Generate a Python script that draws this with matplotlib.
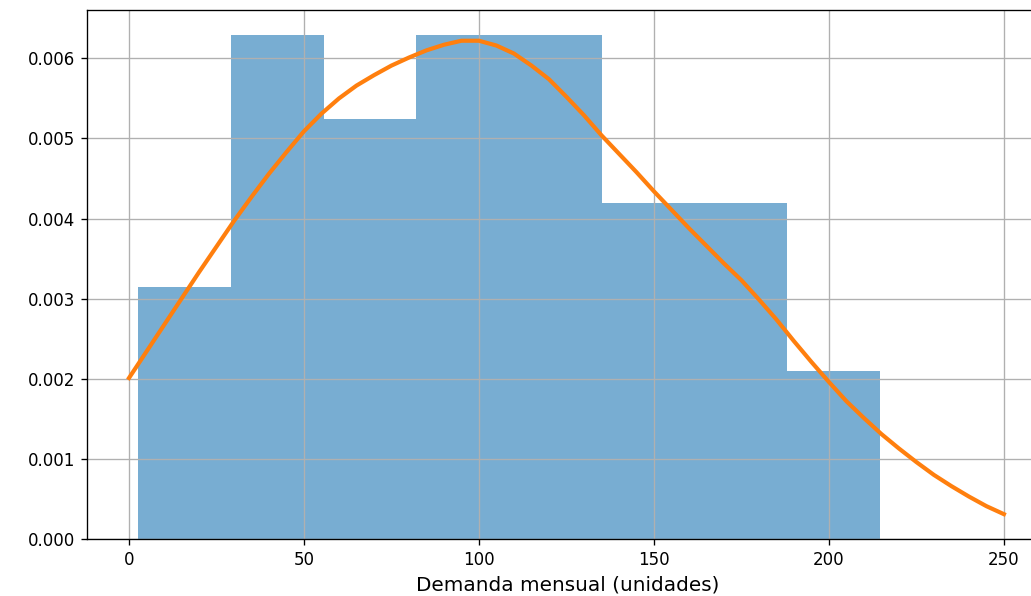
import numpy as np
import matplotlib
matplotlib.use('Agg')
import matplotlib.pyplot as plt

# histogram bins (edges) and counts
bin_edges = [2.6, 29.1, 55.6, 82.1, 108.6, 135.1, 161.6, 188.1, 214.6]
counts = [3, 6, 5, 6, 6, 4, 4, 2]

# fitted density curve, every 5 units
curve_x = list(range(0, 255, 5))
curve_y = [0.00201, 0.00234, 0.00267, 0.00300, 0.00333, 0.00365, 0.00397,
           0.00427, 0.00456, 0.00483, 0.00509, 0.00531, 0.00550, 0.00566,
           0.00579, 0.00591, 0.00601, 0.00610, 0.00617, 0.00622, 0.00622,
           0.00616, 0.00606, 0.00591, 0.00574, 0.00552, 0.00529, 0.00504,
           0.00481, 0.00458, 0.00434, 0.00411, 0.00388, 0.00366, 0.00344,
           0.00323, 0.00299, 0.00274, 0.00247, 0.00221, 0.00196, 0.00172,
           0.00151, 0.00131, 0.00113, 0.00096, 0.00080, 0.00066, 0.00053,
           0.00041, 0.00031]

fig = plt.figure(figsize=(1031/120, 596/120), dpi=120)
ax = fig.add_axes([87/1031, 57/596, 961/1031, 529/596])

ax.hist(bin_edges[:-1], bins=bin_edges, weights=counts, density=True,
        alpha=0.6, color='tab:blue')
ax.plot(curve_x, curve_y, color='tab:orange', lw=2.5)

ax.set_xlabel('Demanda mensual (unidades)', fontsize=12)
ax.set_xticks([0, 50, 100, 150, 200, 250])
ax.set_xlim(-12, 262.6)
ax.grid(True)

fig.savefig('out.png', dpi=120)
